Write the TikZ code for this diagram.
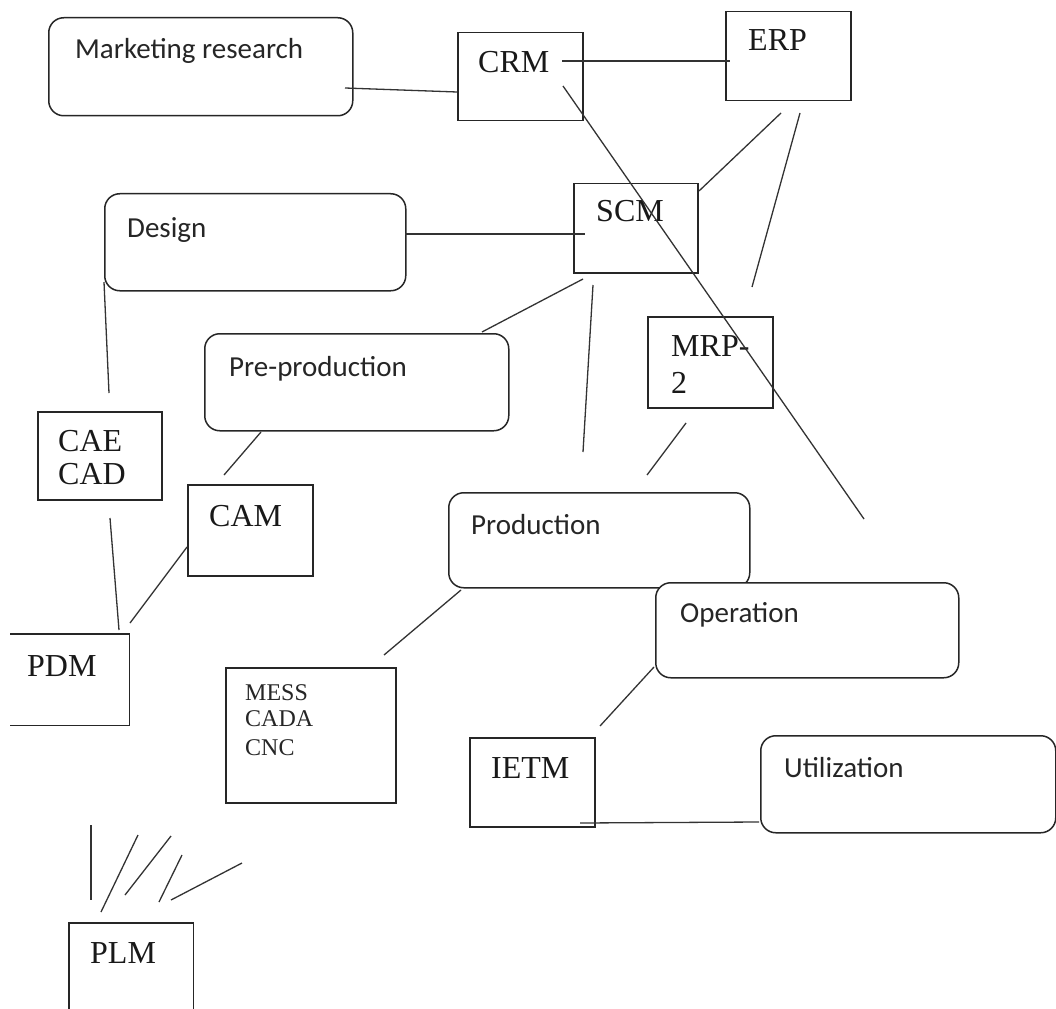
\documentclass[tikz,border=0pt]{standalone}
\usepackage{fontspec}
\newfontfamily\libserif{Liberation Serif}
\newfontfamily\carlito{Carlito}
\begin{document}
\begin{tikzpicture}[x=1pt,y=-1pt]
\tikzset{
  sq/.style={draw=black!85, line width=1.5pt, inner sep=0pt, anchor=north west},
  rnd/.style={sq, rounded corners=15pt},
  ghost/.style={inner sep=0pt, anchor=north west},
  edge/.style={line width=1.5pt, draw=black!85},
  conn/.style={line width=1.3pt, draw=black!80},
  serif/.style={font={\libserif\fontsize{32pt}{35pt}\selectfont}, anchor=base west, inner sep=0pt, text=black!90},
  small/.style={font={\libserif\fontsize{24pt}{27pt}\selectfont}, anchor=base west, inner sep=0pt, text=black!85},
  sans/.style={font={\carlito\fontsize{29pt}{32pt}\selectfont}, anchor=base west, inner sep=0pt, text=black!85},
}
\useasboundingbox (0,0) rectangle (1056,1008);
\fill[white] (0,0) rectangle (1056,1008);

% ---- boxes ----
\node[rnd, minimum width=304pt, minimum height=98pt] (mkt) at (48,17) {};
\node[sq, minimum width=125pt, minimum height=88pt] (crm) at (457,32) {};
\node[sq, minimum width=125pt, minimum height=89pt] (erp) at (725,11) {};
\node[sq, minimum width=124pt, minimum height=89pt] (scm) at (573,183) {};
\node[rnd, minimum width=301pt, minimum height=97pt] (design) at (104,193) {};
\node[rnd, minimum width=304pt, minimum height=97pt] (pre) at (204,333) {};
\node[sq, minimum width=125pt, minimum height=91pt] (mrp) at (647,316) {};
\node[sq, minimum width=124pt, minimum height=88pt] (cae) at (37,411) {};
\node[sq, minimum width=125pt, minimum height=91pt] (cam) at (187,484) {};
\node[rnd, minimum width=301pt, minimum height=95pt] (prod) at (448,492) {};
\node[rnd, fill=white, minimum width=303pt, minimum height=95pt] (oper) at (655,582) {};
\node[ghost, minimum width=119pt, minimum height=91pt] (pdm) at (10,634) {};
\draw[edge] (pdm.north west) -- (pdm.north east) -- (pdm.south east) -- (pdm.south west);
\node[sq, minimum width=170pt, minimum height=135pt] (mess) at (225,667) {};
\node[sq, minimum width=125pt, minimum height=89pt] (ietm) at (469,737) {};
\node[rnd, minimum width=295pt, minimum height=97pt] (util) at (760,735) {};
\node[ghost, minimum width=124pt, minimum height=90pt] (plm) at (69,923) {};
\draw[edge] (plm.south west) -- (plm.north west) -- (plm.north east) -- (plm.south east);

% ---- texts ----
\node[sans] (mkt-t) at (75,59) {Marketing research};
\node[serif] (crm-t) at (478,73) {CRM};
\node[serif] (erp-t) at (748,51) {ERP};
\node[serif] (scm-t) at (596,222) {SCM};
\node[sans] (design-t) at (127,237) {Design};
\node[sans] (pre-t) at (229,376) {Pre-production};
\node[serif] (mrp-t1) at (671,356) {MRP-};
\node[serif] (mrp-t2) at (671,393) {2};
\node[serif] (cae-t1) at (58,451) {CAE};
\node[serif] (cae-t2) at (58,484) {CAD};
\node[serif] (cam-t) at (209,526) {CAM};
\node[sans] (prod-t) at (471,534) {Production};
\node[sans] (oper-t) at (680,622) {Operation};
\node[serif] (pdm-t) at (27,676) {PDM};
\node[small] (mess-t1) at (245,700) {MESS};
\node[small] (mess-t2) at (245,726) {CADA};
\node[small] (mess-t3) at (245,755) {CNC};
\node[serif] (ietm-t) at (491,778) {IETM};
\node[sans] (util-t) at (784,777) {Utilization};
\node[serif] (plm-t) at (90,963) {PLM};

% ---- connector end points ----
\coordinate (a1) at (345,88);   \coordinate (a2) at (457,92);
\coordinate (b1) at (562,61);   \coordinate (b2) at (730,61);
\coordinate (c1) at (563,86);   \coordinate (c2) at (864,519);
\coordinate (d1) at (781,113);  \coordinate (d2) at (699,191);
\coordinate (e1) at (800,113);  \coordinate (e2) at (752,287);
\coordinate (f1) at (405,234);  \coordinate (f2) at (585,234);
\coordinate (g1) at (583,279);  \coordinate (g2) at (482,332);
\coordinate (h1) at (593,285);  \coordinate (h2) at (583,452);
\coordinate (i1) at (104,282);  \coordinate (i2) at (109,393);
\coordinate (j1) at (110,518);  \coordinate (j2) at (119,630);
\coordinate (k1) at (261,432);  \coordinate (k2) at (224,475);
\coordinate (l1) at (187,547);  \coordinate (l2) at (130,623);
\coordinate (m1) at (686,423);  \coordinate (m2) at (647,475);
\coordinate (n1) at (461,590);  \coordinate (n2) at (384,655);
\coordinate (o1) at (654,667);  \coordinate (o2) at (600,726);
\coordinate (p1) at (580,823);  \coordinate (p2) at (759,822);
\coordinate (q1) at (91,825);   \coordinate (q2) at (91,900);
\coordinate (r1) at (138,835);  \coordinate (r2) at (101,912);
\coordinate (s1) at (171,836);  \coordinate (s2) at (125,895);
\coordinate (t1) at (182,855);  \coordinate (t2) at (159,902);
\coordinate (u1) at (242,863);  \coordinate (u2) at (171,900);

\foreach \p in {a,b,c,d,e,f,g,h,i,j,k,l,m,n,o,p,q,r,s,t,u}
  \draw[conn] (\p1) -- (\p2);
\end{tikzpicture}
\end{document}
